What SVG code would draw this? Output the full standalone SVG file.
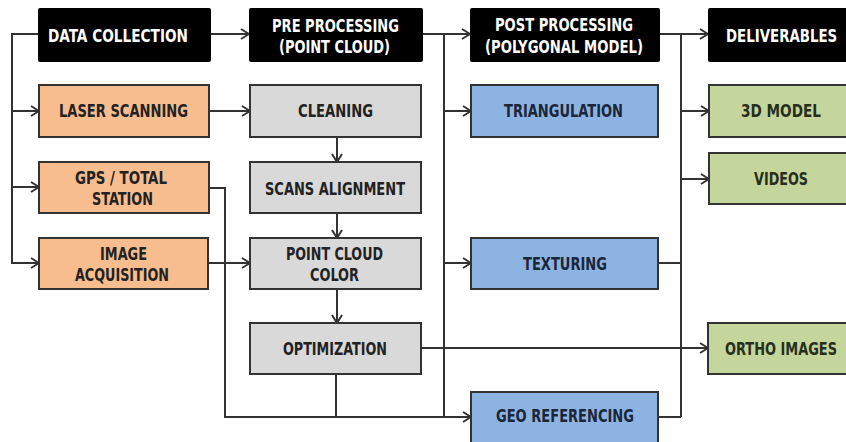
<svg xmlns="http://www.w3.org/2000/svg" width="846" height="442" viewBox="0 0 846 442">
<defs>
<marker id="arr" viewBox="0 0 10 12" refX="9" refY="6" markerWidth="10" markerHeight="12" markerUnits="userSpaceOnUse" orient="auto">
<path d="M1,1 L9,6 L1,11" fill="none" stroke="#333" stroke-width="2"/>
</marker>
<style>
.t{font-family:"Liberation Sans Narrow","DejaVu Sans Condensed","Liberation Sans",sans-serif;font-weight:bold;font-size:18px}
.hd rect{fill:#000}
.hd text{fill:#fff}
.or rect{fill:#F8BD8F;stroke:#333;stroke-width:2}
.gr rect{fill:#D9D9D9;stroke:#333;stroke-width:2}
.bl rect{fill:#8DB3E2;stroke:#333;stroke-width:2}
.gn rect{fill:#C4D69C;stroke:#333;stroke-width:2}
.or text,.gr text{fill:#222}
.bl text{fill:#1B2638}
.gn text{fill:#272E1C}
.c path{fill:none;stroke:#333;stroke-width:2}
.c .a{marker-end:url(#arr)}
</style>
</defs>
<rect width="846" height="442" fill="#fff"/>
<g class="c" id="connectors">
<path class="a" d="M38,34 H12 V263 H39"/>
<path class="a" d="M12,111 H39"/>
<path class="a" d="M12,187 H39"/>
<path class="a" d="M211,34 H249"/>
<path class="a" d="M209,111 H250"/>
<path class="a" d="M337,137 V162"/>
<path class="a" d="M337,213 V238"/>
<path class="a" d="M208,263 H250"/>
<path class="a" d="M337,289 V323"/>
<path class="a" d="M209,188 H225 V417 H471"/>
<path d="M336,374 V417"/>
<path class="a" d="M421,348 H708"/>
<path class="a" d="M423,34 H470"/>
<path d="M444,34 V417"/>
<path class="a" d="M444,111 H471"/>
<path class="a" d="M444,263 H471"/>
<path class="a" d="M660,34 H708"/>
<path d="M681,34 V417"/>
<path class="a" d="M681,111 H709"/>
<path class="a" d="M681,179 H709"/>
<path d="M658,263 H681"/>
<path d="M658,417 H681"/>
</g>
<g id="data-collection" class="hd"><rect x="38" y="8" width="173" height="54" rx="2"/><text class="t" x="48" y="42" textLength="140" lengthAdjust="spacingAndGlyphs">DATA COLLECTION</text></g>
<g id="pre-processing" class="hd"><rect x="249" y="8" width="174" height="54" rx="2"/><text class="t" x="272" y="32" textLength="127" lengthAdjust="spacingAndGlyphs">PRE PROCESSING</text><text class="t" x="279" y="53" textLength="111" lengthAdjust="spacingAndGlyphs">(POINT CLOUD)</text></g>
<g id="post-processing" class="hd"><rect x="470" y="8" width="190" height="54" rx="2"/><text class="t" x="495" y="31" textLength="138" lengthAdjust="spacingAndGlyphs">POST PROCESSING</text><text class="t" x="485" y="53" textLength="158" lengthAdjust="spacingAndGlyphs">(POLYGONAL MODEL)</text></g>
<g id="deliverables" class="hd"><rect x="708" y="8" width="142" height="54" rx="2"/><text class="t" transform="translate(726,42) scale(0.8,1)" x="0" y="0" textLength="139" lengthAdjust="spacingAndGlyphs">DELIVERABLES</text></g>
<g id="laser-scanning" class="or"><rect x="39" y="85" width="170" height="52"/><text class="t" x="59" y="117" textLength="129" lengthAdjust="spacingAndGlyphs">LASER SCANNING</text></g>
<g id="gps-total-station" class="or"><rect x="39" y="162" width="170" height="51"/><text class="t" x="75" y="184" textLength="92" lengthAdjust="spacingAndGlyphs">GPS / TOTAL</text><text class="t" x="92" y="205" textLength="61" lengthAdjust="spacingAndGlyphs">STATION</text></g>
<g id="image-acquisition" class="or"><rect x="39" y="238" width="169" height="51"/><text class="t" x="100" y="260" textLength="47" lengthAdjust="spacingAndGlyphs">IMAGE</text><text class="t" x="75" y="281" textLength="94" lengthAdjust="spacingAndGlyphs">ACQUISITION</text></g>
<g id="cleaning" class="gr"><rect x="250" y="85" width="171" height="52"/><text class="t" x="298" y="117" textLength="75" lengthAdjust="spacingAndGlyphs">CLEANING</text></g>
<g id="scans-alignment" class="gr"><rect x="250" y="162" width="171" height="51"/><text class="t" x="265" y="195" textLength="140" lengthAdjust="spacingAndGlyphs">SCANS ALIGNMENT</text></g>
<g id="point-cloud-color" class="gr"><rect x="250" y="238" width="171" height="51"/><text class="t" x="286" y="260" textLength="97" lengthAdjust="spacingAndGlyphs">POINT CLOUD</text><text class="t" x="310" y="281" textLength="49" lengthAdjust="spacingAndGlyphs">COLOR</text></g>
<g id="optimization" class="gr"><rect x="250" y="323" width="171" height="51"/><text class="t" x="283" y="355" textLength="104" lengthAdjust="spacingAndGlyphs">OPTIMIZATION</text></g>
<g id="triangulation" class="bl"><rect x="471" y="85" width="187" height="52"/><text class="t" x="504" y="117" textLength="119" lengthAdjust="spacingAndGlyphs">TRIANGULATION</text></g>
<g id="texturing" class="bl"><rect x="471" y="238" width="187" height="51"/><text class="t" x="523" y="270" textLength="84" lengthAdjust="spacingAndGlyphs">TEXTURING</text></g>
<g id="geo-referencing" class="bl"><rect x="471" y="392" width="187" height="54"/><text class="t" x="496" y="422" textLength="138" lengthAdjust="spacingAndGlyphs">GEO REFERENCING</text></g>
<g id="3d-model" class="gn"><rect x="709" y="85" width="142" height="52"/><text class="t" x="741" y="117" textLength="80" lengthAdjust="spacingAndGlyphs">3D  MODEL</text></g>
<g id="videos" class="gn"><rect x="709" y="153" width="142" height="51"/><text class="t" x="754" y="185" textLength="54" lengthAdjust="spacingAndGlyphs">VIDEOS</text></g>
<g id="ortho-images" class="gn"><rect x="708" y="323" width="142" height="51"/><text class="t" transform="translate(725,355) scale(0.8,1)" x="0" y="0" textLength="140" lengthAdjust="spacingAndGlyphs">ORTHO IMAGES</text></g>
</svg>
